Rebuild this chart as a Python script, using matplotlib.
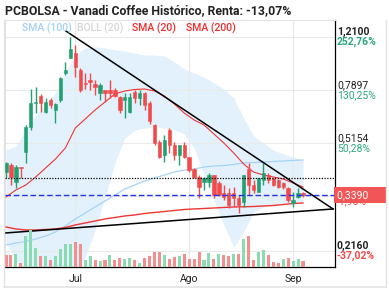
import numpy as np
import matplotlib.pyplot as plt
from matplotlib.lines import Line2D
from matplotlib.transforms import blended_transform_factory

plt.rcParams['font.family'] = ['Roboto', 'DejaVu Sans']

W, H = 389, 290

# candles (one per trading day)
opens = [0.4080, 0.4318, 0.3765, 0.4248, 0.4794, 0.5863, 0.7113, 0.7525, 0.6615, 0.7287,
         0.6723, 0.7287, 0.9056, 1.0217, 1.0637, 0.9277, 0.8355, 0.8560, 0.8288, 0.7709,
         0.7898, 0.7898, 0.7898, 0.7465, 0.7287, 0.6615, 0.7772, 0.7405, 0.7709, 0.7113,
         0.5957, 0.5195, 0.4679, 0.5723, 0.5071, 0.4679, 0.5071, 0.4605, 0.4180, 0.3920,
         0.3765, 0.3765, 0.3983, 0.3735, 0.3445, 0.3445, 0.3445, 0.3310, 0.3205, 0.4180,
         0.3675, 0.3473, 0.3826, 0.3983, 0.3889, 0.3826, 0.3735, 0.3587, 0.3180, 0.3337,
         0.3445]
highs = [0.4423, 0.4388, 0.4318, 0.4248, 0.5957, 0.7962, 0.8091, 0.7647, 0.7405, 0.7405,
         0.7113, 0.8769, 0.9893, 1.2100, 1.1345, 0.9428, 0.9056, 0.9056, 0.8560, 0.8355,
         0.7898, 0.8560, 0.8026, 0.7525, 0.7709, 0.7709, 0.7898, 0.7898, 0.7772, 0.7228,
         0.6006, 0.5280, 0.5497, 0.5816, 0.5195, 0.5071, 0.5195, 0.4605, 0.4214, 0.3983,
         0.3920, 0.4048, 0.3983, 0.3796, 0.3675, 0.3587, 0.3616, 0.3390, 0.3983, 0.4388,
         0.3826, 0.3889, 0.4388, 0.4048, 0.3889, 0.3857, 0.3765, 0.3616, 0.3473, 0.3587,
         0.3473]
lows = [0.3889, 0.3675, 0.3587, 0.3889, 0.4388, 0.5723, 0.6562, 0.6615, 0.6562, 0.6832,
        0.6054, 0.7170, 0.8911, 1.0217, 0.8769, 0.7772, 0.7962, 0.7898, 0.7586, 0.7287,
        0.7170, 0.7405, 0.7465, 0.6562, 0.6303, 0.6562, 0.7113, 0.6999, 0.6723, 0.6006,
        0.5071, 0.4568, 0.4423, 0.4755, 0.4495, 0.4318, 0.4568, 0.4080, 0.3889, 0.3310,
        0.3530, 0.3616, 0.3310, 0.3363, 0.3257, 0.3054, 0.3079, 0.2934, 0.3079, 0.3390,
        0.3445, 0.3473, 0.3675, 0.3735, 0.3646, 0.3587, 0.3558, 0.3205, 0.3079, 0.3310,
        0.3337]
closes = [0.4388, 0.3920, 0.4248, 0.4214, 0.5863, 0.7113, 0.7170, 0.7113, 0.7170, 0.6999,
          0.7056, 0.8699, 0.9277, 1.0986, 0.9504, 0.7898, 0.8288, 0.8423, 0.8091, 0.8222,
          0.7709, 0.7709, 0.7525, 0.6723, 0.7465, 0.7465, 0.7405, 0.7709, 0.6999, 0.6153,
          0.5154, 0.4605, 0.5280, 0.5071, 0.4679, 0.5071, 0.4605, 0.4147, 0.3920, 0.3616,
          0.3889, 0.3983, 0.3390, 0.3390, 0.3337, 0.3129, 0.3310, 0.3129, 0.3983, 0.3675,
          0.3530, 0.3889, 0.4048, 0.3826, 0.3675, 0.3616, 0.3616, 0.3257, 0.3257, 0.3445,
          0.3390]
volume = [35, 35, 40, 13, 92, 110, 58, 32, 32, 20, 32, 55, 68, 70, 74, 68, 22, 32, 22, 17,
          20, 35, 20, 28, 23, 26, 20, 13, 27, 32, 44, 44, 35, 23, 29, 32, 38, 23, 23, 44,
          22, 41, 23, 38, 37, 32, 38, 38, 83, 92, 22, 44, 52, 35, 16, 13, 23, 28, 17, 23, 18]

# indicators read every second day
ind_x = list(range(0, 61, 2))
sma20 = [0.3337, 0.3530, 0.3675, 0.3920, 0.4214, 0.4531, 0.4951, 0.5816, 0.6252, 0.6723,
         0.7170, 0.7647, 0.7834, 0.7930, 0.7962, 0.7834, 0.7525, 0.7056, 0.6562, 0.6202,
         0.5957, 0.5541, 0.5154, 0.4755, 0.4353, 0.4080, 0.3983, 0.3920, 0.3857, 0.3735, 0.3616]
sma100 = [0.2267, 0.2304, 0.2332, 0.2379, 0.2438, 0.2518, 0.2642, 0.2795, 0.2934, 0.3079,
          0.3231, 0.3390, 0.3558, 0.3675, 0.3796, 0.3889, 0.3983, 0.4080, 0.4147, 0.4180,
          0.4248, 0.4282, 0.4300, 0.4336, 0.4388, 0.4405, 0.4423, 0.4441, 0.4459, 0.4477, 0.4495]
sma200 = [0.2621, 0.2579, 0.2559, 0.2559, 0.2569, 0.2579, 0.2611, 0.2664, 0.2707, 0.2751,
          0.2795, 0.2829, 0.2864, 0.2887, 0.2922, 0.2946, 0.2969, 0.2993, 0.3018, 0.3030,
          0.3042, 0.3054, 0.3067, 0.3079, 0.3084, 0.3091, 0.3104, 0.3116, 0.3141, 0.3166, 0.3180]
boll_up = [0.4872, 0.5031, 0.5723, 0.6405, 0.7056, 0.7709, 0.9056, 1.0467, 1.1074, 1.1164,
           1.1074, 1.0897, 1.0810, 1.0637, 1.0467, 1.0467, 1.0383, 0.9893, 0.9352, 0.9056,
           0.8769, 0.8355, 0.7962, 0.7405, 0.6303, 0.5453, 0.5154, 0.4872, 0.4718, 0.4605, 0.4495]
boll_low = [0.2304, 0.2009, 0.1643, 0.1456, 0.1399, 0.1456, 0.1578, 0.1781, 0.2058, 0.2559,
            0.3310, 0.4388, 0.5366, 0.5723, 0.5816, 0.5863, 0.5816, 0.5723, 0.5541, 0.4951,
            0.3983, 0.3257, 0.2664, 0.2231, 0.2518, 0.2957, 0.3079, 0.3129, 0.3180, 0.3205, 0.3205]

# drawn trend lines and levels
trend_down_x = [12.1, 66.06]
trend_down_y = [1.2699, 0.3030]
trend_up_x = [-0.2, 66.06]
trend_up_y = [0.2497, 0.3030]
level_dotted = 0.3889
last_price = 0.3390

grid_levels = [1.2100, 0.7897, 0.5154, 0.3364, 0.2160]
grid_labels = ["1,2100", "0,7897", "0,5154", "0,3364", "0,2160"]
pct_labels = ["252,76%", "130,25%", "50,28%", "-1,98%", "-37,02%"]
month_pos = [14, 37, 58]
month_labels = ["Jul", "Ago", "Sep"]

UP = "#22a072"
DOWN = "#f24a4a"
VOL_UP = "#8adbb2"
VOL_DOWN = "#f58e8e"

idx = np.arange(len(closes))
o = np.array(opens)
c = np.array(closes)
up = c >= o
candle_col = [UP if u else DOWN for u in up]
prev = np.r_[c[0] * 1.1, c[:-1]]
vol_col = [VOL_UP if a >= b else VOL_DOWN for a, b in zip(c, prev)]

fig = plt.figure(figsize=(W / 100, H / 100), dpi=100)
rect = [5 / W, 23 / H, 330 / W, 247 / H]
ax = fig.add_axes(rect)
ax.set_yscale("log")

ax.fill_between(ind_x, boll_low, boll_up, color="#e2f1fc", lw=0, zorder=1)

ax.plot(ind_x, sma100, color="#a6d3f7", lw=0.9, zorder=3)
ax.plot(ind_x, sma200, color="#f03535", lw=1.0, zorder=3)
ax.plot(ind_x, sma20, color="#f03535", lw=0.8, zorder=3)

ax.vlines(idx, lows, highs, colors=candle_col, lw=1.0, zorder=4)
ax.bar(idx, np.abs(c - o), bottom=np.minimum(o, c), width=0.68, color=candle_col,
       edgecolor=candle_col, lw=0.4, zorder=5)

ax.axhline(level_dotted, color="black", lw=0.9, ls=(0, (1, 1.2)), zorder=6)
ax.axhline(last_price, color="#2233ee", lw=1.0, ls=(0, (4, 2)), zorder=6)
ax.plot(trend_down_x, trend_down_y, color="black", lw=1.1, zorder=7, clip_on=False)
ax.plot(trend_up_x, trend_up_y, color="black", lw=1.1, zorder=7, clip_on=False)

ax.set_xlim(-0.2, 66.46)
ax.set_ylim(0.1899, 1.3875)
ax.minorticks_off()
ax.set_yticks(grid_levels)
ax.set_xticks(month_pos, month_labels)
ax.tick_params(length=0, labelleft=False, labelsize=7.5, labelcolor="#222222", pad=5)
ax.grid(color="#e9e9e9", lw=0.8)
ax.xaxis.set_zorder(1.5)
ax.yaxis.set_zorder(1.5)
for s in ["top", "left"]:
    ax.spines[s].set_color("#e3e3e3")
for s in ["right", "bottom"]:
    ax.spines[s].set_color("black")
    ax.spines[s].set_linewidth(0.9)

# volume on its own transparent axes over the price panel
axv = fig.add_axes(rect)
axv.patch.set_visible(False)
axv.bar(idx, volume, width=0.62, color=vol_col)
axv.set_xlim(-0.2, 66.46)
axv.set_ylim(0, 740)
axv.axis("off")

# right axis labels
lab = blended_transform_factory(ax.transAxes, ax.transData)
for k, (v, t, p) in enumerate(zip(grid_levels, grid_labels, pct_labels)):
    bold = "bold" if k in (0, len(grid_levels) - 1) else "normal"
    pcol = "#2ba77c" if not p.startswith("-") else "#f04848"
    ax.text(1.006, v, t, transform=lab, ha="left", va="bottom", fontsize=7.5,
            color="#222222", weight=bold, clip_on=False)
    ax.text(1.006, v, p, transform=lab, ha="left", va="top", fontsize=7.5,
            color=pcol, weight=bold, clip_on=False)
ax.text(1.006, last_price, "0,3390      ", transform=lab, ha="left", va="center",
        fontsize=7.5, color="white", clip_on=False, zorder=10,
        bbox=dict(boxstyle="square,pad=0.25", fc="#f25555", ec="none"))

# title and legend
fig.text(5 / W, 1 - 11 / H, "PCBOLSA - Vanadi Coffee Histórico, Renta: -13,07%",
         fontsize=8.8, weight="bold", color="#222222", va="center")
legend = [("SMA (100)", "#a3d1f5", 22), ("BOLL (20)", "#d6d6d6", 77),
          ("SMA (20)", "#f52a2a", 132), ("SMA (200)", "#f52a2a", 186)]
for name, col, xp in legend:
    fig.text(xp / W, 1 - 28 / H, name, fontsize=7.5, color=col, va="center", weight="medium")

# outer light frame
fig.add_artist(Line2D([4 / W, 386 / W], [1 - 287 / H, 1 - 287 / H], color="#e3e3e3", lw=1.2))
fig.add_artist(Line2D([386 / W, 386 / W], [1 - 20 / H, 1 - 287 / H], color="#e3e3e3", lw=1.0))
fig.add_artist(Line2D([4 / W, 4 / W], [1 - 20 / H, 1 - 287 / H], color="#e3e3e3", lw=1.0))

fig.savefig("out.png", dpi=100)
